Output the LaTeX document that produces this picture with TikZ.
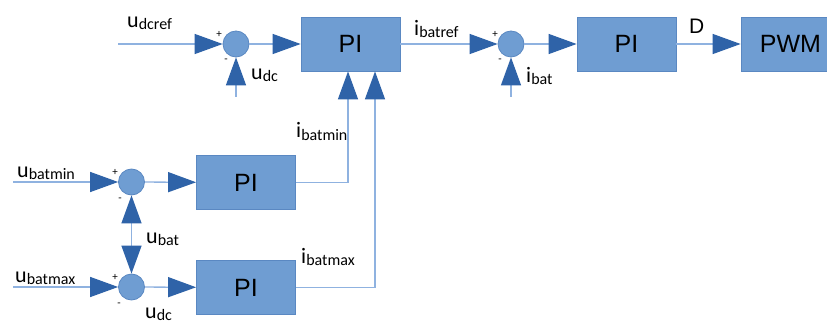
\documentclass[tikz,border=0pt]{standalone}
\usepackage{fontspec}
\setmainfont{Carlito}
\newfontfamily\blkfont{Liberation Sans}
\usetikzlibrary{arrows.meta}
\definecolor{boxfill}{HTML}{6F9DD2}
\definecolor{boxline}{HTML}{5A88C2}
\definecolor{arrowcol}{HTML}{2F63A8}
\definecolor{linecol}{HTML}{8FB2E0}
\newcommand\sigl[2]{#1\raisebox{-2pt}{\fontsize{16}{16}\selectfont #2}}
\begin{document}
\begin{tikzpicture}[x=1pt,y=-1pt,
  blk/.style={draw=boxline,fill=boxfill,line width=0.8pt,minimum width=99pt,minimum height=54pt,inner sep=0pt,font=\blkfont\fontsize{25}{25}\selectfont},
  sumc/.style={circle,draw=boxline,fill=boxfill,line width=0.8pt,minimum size=26pt,inner sep=0pt},
  conn/.style={draw=linecol,line width=1.3pt,-{Triangle[length=28pt,width=20pt,color=arrowcol]}},
  lbl/.style={anchor=base west,inner sep=0pt,font=\fontsize{22}{22}\selectfont},
  sgn/.style={inner sep=0pt,font=\fontsize{11}{11}\selectfont}]
\clip (0,0) rectangle (827,326);
\fill[white] (0,0) rectangle (827,326);
% blocks
\node[blk] (pi1) at (350.5,44) {PI};
\node[sumc] (s1) at (236,44) {};
\node[sumc] (s2) at (511,44) {};
\node[blk] (pi2) at (626.5,44) {PI};
\node[blk] (pwm) at (790.5,44) {PWM};
\node[sumc] (s3) at (131.5,182) {};
\node[sumc] (s4) at (131.5,287) {};
\node[blk] (pi3) at (246,182.5) {PI};
\node[blk] (pi4) at (246,287.5) {PI};
% free ends
\coordinate (in1) at (118,44);
\coordinate (fb1) at (236,97);
\coordinate (fb2) at (511,97);
\coordinate (in3) at (13,182);
\coordinate (in4) at (13,287);
% connectors
\draw[conn] (in1) -- (s1);
\draw[conn] (s1) -- (pi1);
\draw[conn] (fb1) -- (s1);
\draw[conn] (pi1) -- (s2);
\draw[conn] (s2) -- (pi2);
\draw[conn] (fb2) -- (s2);
\draw[conn] (pi2) -- (pwm);
\draw[conn] (in3) -- (s3);
\draw[conn] (s3) -- (pi3);
\draw[conn] (in4) -- (s4);
\draw[conn] (s4) -- (pi4);
\draw[conn] (pi3.east) -| ([xshift=-2.5pt]pi1.south);
\draw[conn] (pi4.east) -| ([xshift=24.5pt]pi1.south);
\draw[conn,{Triangle[length=28pt,width=20pt,color=arrowcol]}-{Triangle[length=28pt,width=20pt,color=arrowcol]}] (s3) -- (s4);
% labels
\node[lbl] (l1) at (127,28) {\sigl{u}{dcref}};
\node[lbl] (l2) at (251,80) {\sigl{u}{dc}};
\node[lbl] (l3) at (414,36) {\sigl{i}{batref}};
\node[lbl] (l4) at (526,83) {\sigl{i}{bat}};
\node[lbl,font=\blkfont\fontsize{21}{21}\selectfont] (l5) at (689,34) {D};
\node[lbl] (l6) at (17,177) {\sigl{u}{batmin}};
\node[lbl] (l7) at (296,138) {\sigl{i}{batmin}};
\node[lbl] (l8) at (15,282) {\sigl{u}{batmax}};
\node[lbl] (l9) at (146,243) {\sigl{u}{bat}};
\node[lbl] (l10) at (301,263) {\sigl{i}{batmax}};
\node[lbl] (l11) at (145,318) {\sigl{u}{dc}};
% signs
\node[sgn] (p1) at (219,34) {+};
\node[sgn] (m1) at (226,61) {-};
\node[sgn] (p2) at (495,34) {+};
\node[sgn] (m2) at (500,61) {-};
\node[sgn] (p3) at (115,172) {+};
\node[sgn] (m3) at (120,200) {-};
\node[sgn] (p4) at (115,277) {+};
\node[sgn] (m4) at (119,305) {-};
\end{tikzpicture}
\end{document}
